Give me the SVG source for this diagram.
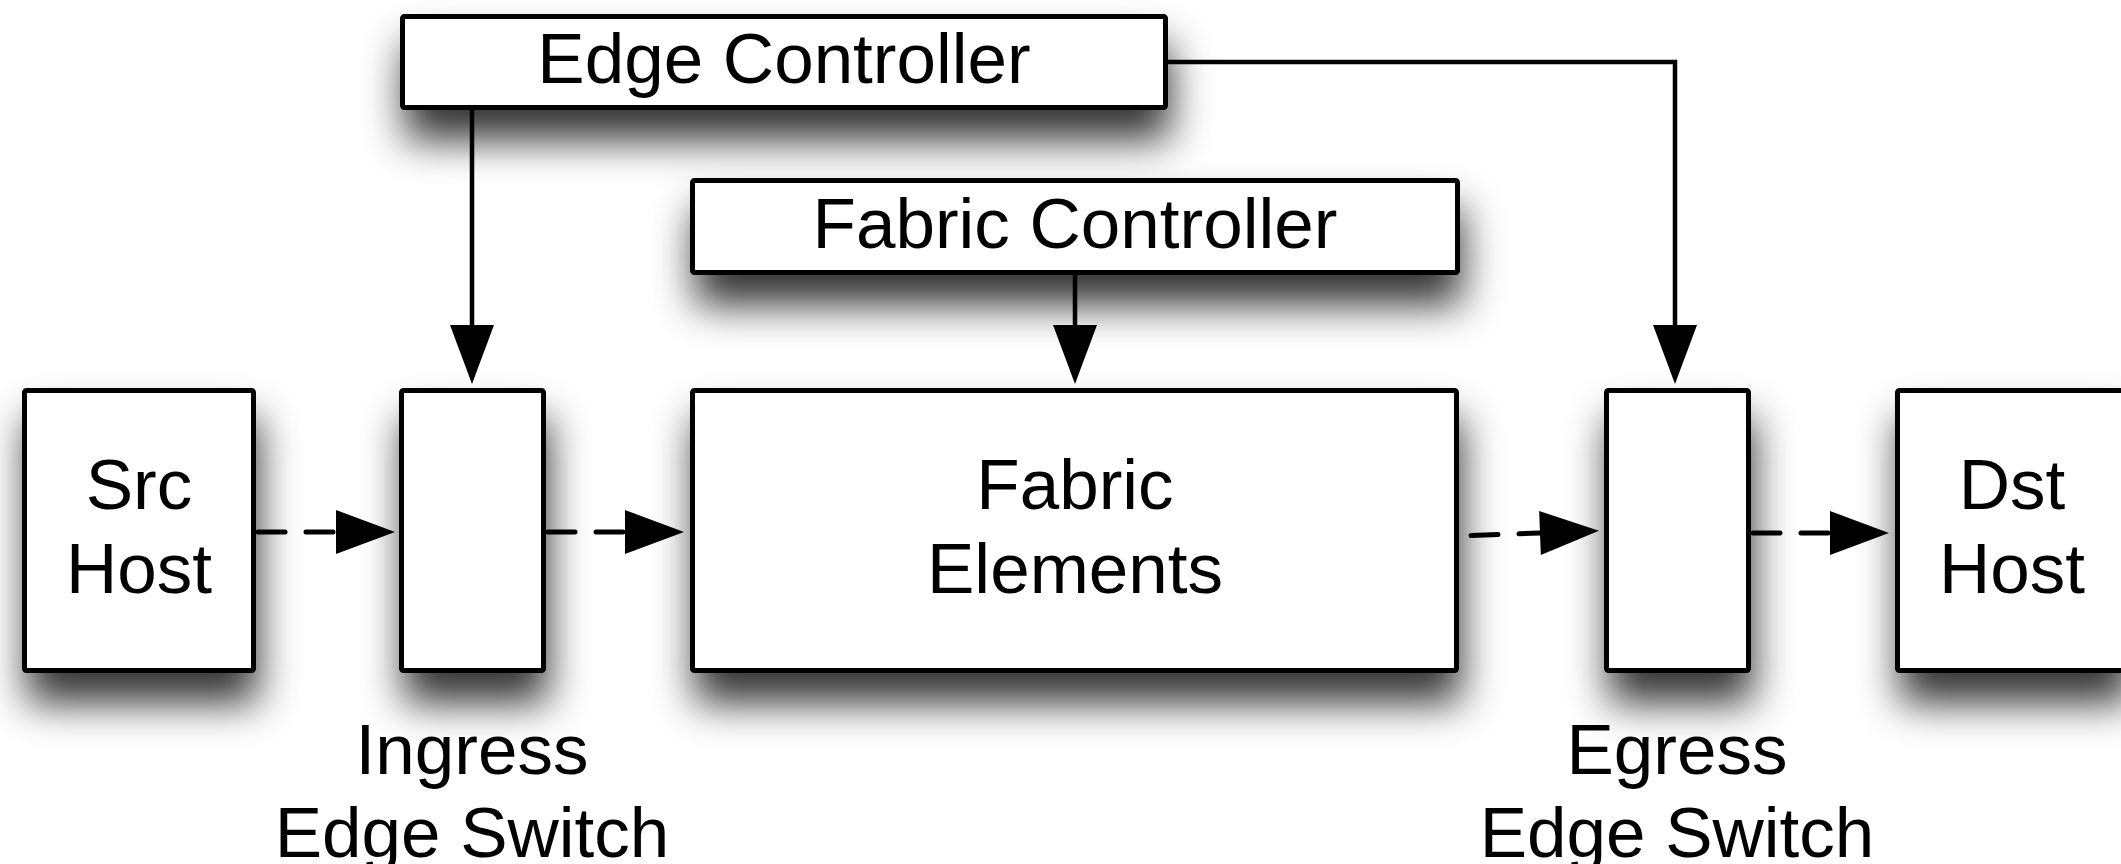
<svg xmlns="http://www.w3.org/2000/svg" width="2121" height="864" viewBox="0 0 2121 864">
<defs>
<filter id="blur" filterUnits="userSpaceOnUse" x="0" y="0" width="2121" height="864">
<feGaussianBlur stdDeviation="20"/>
</filter>
<marker id="arrow" markerUnits="userSpaceOnUse" markerWidth="62" markerHeight="48" viewBox="-2 -24 62 48" refX="0" refY="0" orient="auto">
<path d="M0,-22 L59,0 L0,22 Z" fill="#000"/>
</marker>
</defs>
<style>
.box{fill:#fff;stroke:#000;stroke-width:5;stroke-linejoin:round}
.sh{fill:#000;fill-opacity:0.8;filter:url(#blur)}
.lbl{font-family:"Liberation Sans",Arial,Helvetica,sans-serif;font-size:71px;fill:#000;text-anchor:middle}
.conn{fill:none;stroke:#000;stroke-width:4.5;marker-end:url(#arrow)}
.dash{stroke-dasharray:27 21;stroke-width:5;stroke-linecap:round}
</style>
<rect width="2121" height="864" fill="#fff"/>
<g id="shadows">
<rect class="sh" x="405" y="44" width="765" height="96"/>
<rect class="sh" x="695" y="208" width="767" height="97"/>
<rect class="sh" x="27" y="418" width="231" height="285"/>
<rect class="sh" x="404" y="418" width="144" height="285"/>
<rect class="sh" x="695" y="418" width="766" height="285"/>
<rect class="sh" x="1609" y="418" width="144" height="285"/>
<rect class="sh" x="1900" y="418" width="231" height="285"/>
</g>
<g id="edge-controller">
<rect class="box" x="402.5" y="16.5" width="763" height="91" rx="2"/>
<text class="lbl" x="784" y="83">Edge Controller</text>
</g>
<g id="fabric-controller">
<rect class="box" x="692.5" y="180.5" width="765" height="92" rx="2"/>
<text class="lbl" x="1075" y="248">Fabric Controller</text>
</g>
<g id="src-host">
<rect class="box" x="24.5" y="390.5" width="229" height="280" rx="2"/>
<text class="lbl" x="139" y="509">Src</text>
<text class="lbl" x="139" y="593">Host</text>
</g>
<g id="ingress-switch">
<rect class="box" x="401.5" y="390.5" width="142" height="280" rx="2"/>
<text class="lbl" x="472" y="774">Ingress</text>
<text class="lbl" x="472" y="857">Edge Switch</text>
</g>
<g id="fabric-elements">
<rect class="box" x="692.5" y="390.5" width="764" height="280" rx="2"/>
<text class="lbl" x="1075" y="509">Fabric</text>
<text class="lbl" x="1075" y="593">Elements</text>
</g>
<g id="egress-switch">
<rect class="box" x="1606.5" y="390.5" width="142" height="280" rx="2"/>
<text class="lbl" x="1677" y="774">Egress</text>
<text class="lbl" x="1677" y="857">Edge Switch</text>
</g>
<g id="dst-host">
<rect class="box" x="1897.5" y="390.5" width="229" height="280" rx="2"/>
<text class="lbl" x="2012" y="509">Dst</text>
<text class="lbl" x="2012" y="593">Host</text>
</g>
<g id="connectors">
<path class="conn" d="M472,109 V325"/>
<path class="conn" d="M1075,275 V325"/>
<path class="conn" d="M1168,62 H1675 V325"/>
<path class="conn dash" d="M258,532 H336"/>
<path class="conn dash" d="M548,532 H625"/>
<path class="conn dash" style="stroke-dashoffset:38" d="M1461,536 L1540,533"/>
<path class="conn dash" d="M1753,533 H1830"/>
</g>
</svg>
